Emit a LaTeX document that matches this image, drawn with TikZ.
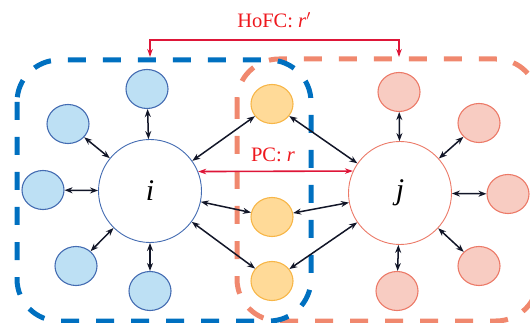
\documentclass[tikz,border=0pt]{standalone}
\usepackage{fontspec}
\setmainfont{Liberation Serif}
\usetikzlibrary{arrows.meta,shapes.geometric}
\definecolor{bfill}{RGB}{189,224,244}
\definecolor{bdraw}{RGB}{68,108,178}
\definecolor{yfill}{RGB}{255,218,152}
\definecolor{ydraw}{RGB}{247,182,72}
\definecolor{rfill}{RGB}{248,204,194}
\definecolor{rdraw}{RGB}{236,122,104}
\definecolor{bdash}{RGB}{0,112,192}
\definecolor{odash}{RGB}{240,136,110}
\definecolor{linkred}{RGB}{222,22,56}
\definecolor{textred}{RGB}{238,24,30}
\definecolor{linkdark}{RGB}{18,22,40}
\tikzset{
  small/.style={ellipse, minimum width=42pt, minimum height=39pt, inner sep=0pt, line width=1.1pt},
  bnode/.style={small, fill=bfill, draw=bdraw},
  ynode/.style={small, fill=yfill, draw=ydraw},
  rnode/.style={small, fill=rfill, draw=rdraw},
  big/.style={circle, minimum size=103pt, inner sep=0pt, fill=white, line width=0.9pt, font=\fontsize{30}{30}\selectfont\itshape},
  group/.style={line width=5pt, dash pattern=on 18pt off 17pt, rounded corners=42pt},
  link/.style={line width=1.5pt, draw=linkdark, {Stealth[length=8pt,width=6pt]}-{Stealth[length=8pt,width=6pt]}},
  redlink/.style={line width=1.6pt, draw=linkred, {Stealth[length=8pt,width=5.5pt]}-{Stealth[length=8pt,width=5.5pt]}},
  lbl/.style={text=textred, font=\fontsize{20.5}{20.5}\selectfont}
}
\begin{document}
\begin{tikzpicture}[x=1pt,y=-1pt]
\useasboundingbox (0,0) rectangle (530,323);
% groups
\draw[group, draw=odash] (237,59) rectangle (538,321);
\draw[group, draw=bdash] (17,60) rectangle (311,321);
% nodes
\node[big, draw=bdraw] (i) at (150,191) {i};
\node[big, draw=rdraw] (j) at (400,193) {j};
\node[bnode] (b1) at (147,89) {};
\node[bnode] (b2) at (68,124) {};
\node[bnode] (b3) at (43,190) {};
\node[bnode] (b4) at (76,266) {};
\node[bnode] (b5) at (150,291) {};
\node[ynode] (y1) at (272,104) {};
\node[ynode] (y2) at (272,217) {};
\node[ynode] (y3) at (272,281) {};
\node[rnode] (r1) at (399,92) {};
\node[rnode] (r2) at (479,123) {};
\node[rnode] (r3) at (508,194) {};
\node[rnode] (r4) at (479,266) {};
\node[rnode] (r5) at (397,291) {};
% links
\foreach \n in {b1,b2,b3,b4,b5,y1,y2,y3} \draw[link] (i) -- (\n);
\foreach \n in {r1,r2,r3,r4,r5,y1,y2,y3} \draw[link] (j) -- (\n);
% PC
\draw[redlink] (i.22.6) -- (j.155);
\node[lbl] (pc) at (273,155) {PC: \textit{r}};
% HoFC
\coordinate (hl) at (150,57);
\coordinate (hr) at (399,57);
\draw[redlink] (hl) -- ++(0,-17) -| (hr);
\node[lbl] (hofc) at (274,20) {HoFC: \textit{r}$'$};
\end{tikzpicture}
\end{document}
